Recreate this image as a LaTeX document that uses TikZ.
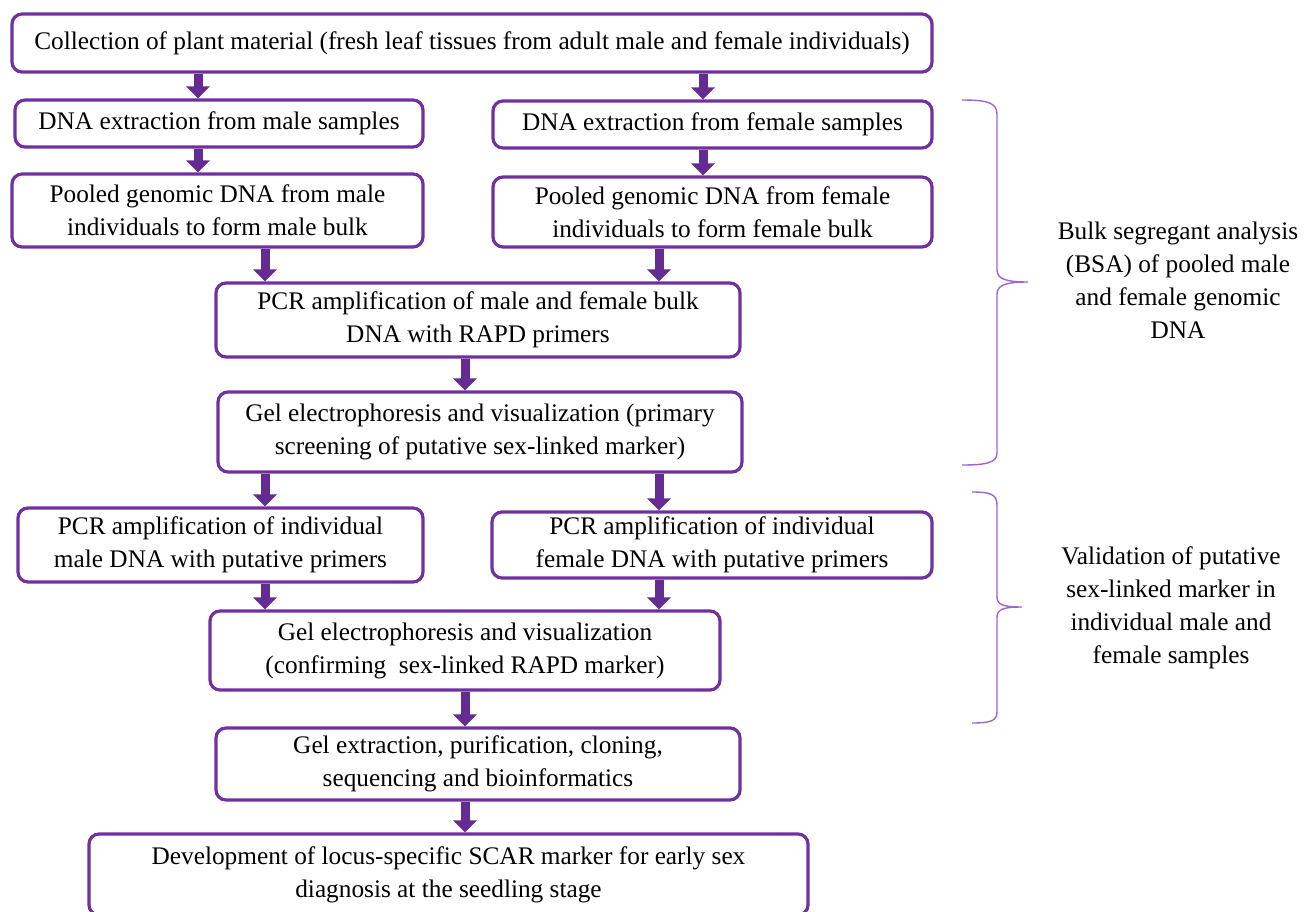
\documentclass[tikz,border=0pt]{standalone}
\usepackage{fontspec}
\setmainfont{Liberation Serif}
\usepackage{tikz}
\usetikzlibrary{
    arrows.meta,
    positioning,
    calc
}
\definecolor{boxPurple}{RGB}{112,48,160}
\definecolor{arrowPurple}{RGB}{100,44,146}
\definecolor{bracePurple}{RGB}{160,100,210}

\begin{document}
\begin{tikzpicture}[
    x=1pt,
    y=-1pt,
    font=\fontsize{25.3}{33}\selectfont,
    stage/.style={
        draw=boxPurple,
        line width=3.2pt,
        rounded corners=10pt,
        align=center,
        inner sep=0pt
    },
    flow/.style={
        draw=arrowPurple,
        line width=9pt,
        -{Triangle[length=12pt,width=23pt]}
    },
    bracket/.style={
        draw=bracePurple,
        line width=1.4pt
    }
]

\useasboundingbox (0,0) rectangle (1313,911);

% =============================================================
% Sampling and bulk segregant analysis
% =============================================================

\node[stage, minimum width=920, minimum height=58] (collect) at (472,43)
{Collection of plant material (fresh leaf tissues from adult male and female individuals)};

\node[stage, minimum width=408, minimum height=47] (mext) at (219,123.5)
{DNA extraction from male samples};

\node[stage, minimum width=439, minimum height=47] (fext) at (712.5,124.5)
{DNA extraction from female samples};

\node[stage, minimum width=411, minimum height=73] (pmale) at (217.5,210.5)
{Pooled genomic DNA from male\\individuals to form male bulk};

\node[stage, minimum width=439, minimum height=70] (pfemale) at (712.5,212)
{Pooled genomic DNA from female\\individuals to form female bulk};

\node[stage, minimum width=524, minimum height=74] (bulkpcr) at (478,320)
{PCR amplification of male and female bulk\\DNA with RAPD primers};

\node[stage, minimum width=524, minimum height=80] (gelA) at (480,432)
{Gel electrophoresis and visualization (primary\\screening of putative sex-linked marker)};

% =============================================================
% Validation on individual samples
% =============================================================

\node[stage, minimum width=405, minimum height=74] (imale) at (220.5,545)
{PCR amplification of individual\\male DNA with putative primers};

\node[stage, minimum width=440, minimum height=66] (ifemale) at (712,545)
{PCR amplification of individual\\female DNA with putative primers};

\node[stage, minimum width=510, minimum height=79] (gelB) at (465,650.5)
{Gel electrophoresis and visualization\\(confirming\ \ sex-linked RAPD marker)};

\node[stage, minimum width=524, minimum height=72] (gelext) at (478,764)
{Gel extraction, purification, cloning,\\sequencing and bioinformatics};

\node[stage, minimum width=719, minimum height=81] (scar) at (448.5,874.5)
{Development of locus-specific SCAR marker for early sex\\diagnosis at the seedling stage};

% Arrow columns
\coordinate (colA) at (198,0);
\coordinate (colB) at (703,0);
\coordinate (colC) at (265,0);
\coordinate (colD) at (659,0);
\coordinate (colE) at (465,0);

\draw[flow] (collect.south -| colA) -- (mext.north -| colA);
\draw[flow] (collect.south -| colB) -- (fext.north -| colB);
\draw[flow] (mext.south -| colA) -- (pmale.north -| colA);
\draw[flow] (fext.south -| colB) -- (pfemale.north -| colB);
\draw[flow] (pmale.south -| colC) -- (bulkpcr.north -| colC);
\draw[flow] (pfemale.south -| colD) -- (bulkpcr.north -| colD);
\draw[flow] (bulkpcr.south -| colE) -- (gelA.north -| colE);
\draw[flow] (gelA.south -| colC) -- (imale.north -| colC);
\draw[flow] (gelA.south -| colD) -- (ifemale.north -| colD);
\draw[flow] (imale.south -| colC) -- (gelB.north -| colC);
\draw[flow] (ifemale.south -| colD) -- (gelB.north -| colD);
\draw[flow] (gelB.south -| colE) -- (gelext.north -| colE);
\draw[flow] (gelext.south -| colE) -- (scar.north -| colE);

% =============================================================
% Braces and phase labels
% =============================================================

% BSA brace
\draw[bracket]
    (962,100)
    .. controls (985,100) and (997,102) .. (997,114)
    -- (997,270)
    .. controls (997,279) and (1006,282) .. (1028,282)
    .. controls (1006,282) and (997,285) .. (997,294)
    -- (997,453)
    .. controls (997,463) and (985,465) .. (962,465);

% Validation brace
\draw[bracket]
    (972,492)
    .. controls (990,492) and (997,494) .. (997,505)
    -- (997,597)
    .. controls (997,605) and (1004,607) .. (1022,607)
    .. controls (1004,607) and (997,609) .. (997,617)
    -- (997,712)
    .. controls (997,721) and (990,723) .. (972,723);

\node[align=center] (bsaNote) at (1178,280)
{Bulk segregant analysis\\(BSA) of pooled male\\and female genomic\\DNA};

\node[align=center] (valNote) at (1171,608)
{Validation of putative\\sex-linked marker in\\individual male and\\female samples};

\end{tikzpicture}
\end{document}
